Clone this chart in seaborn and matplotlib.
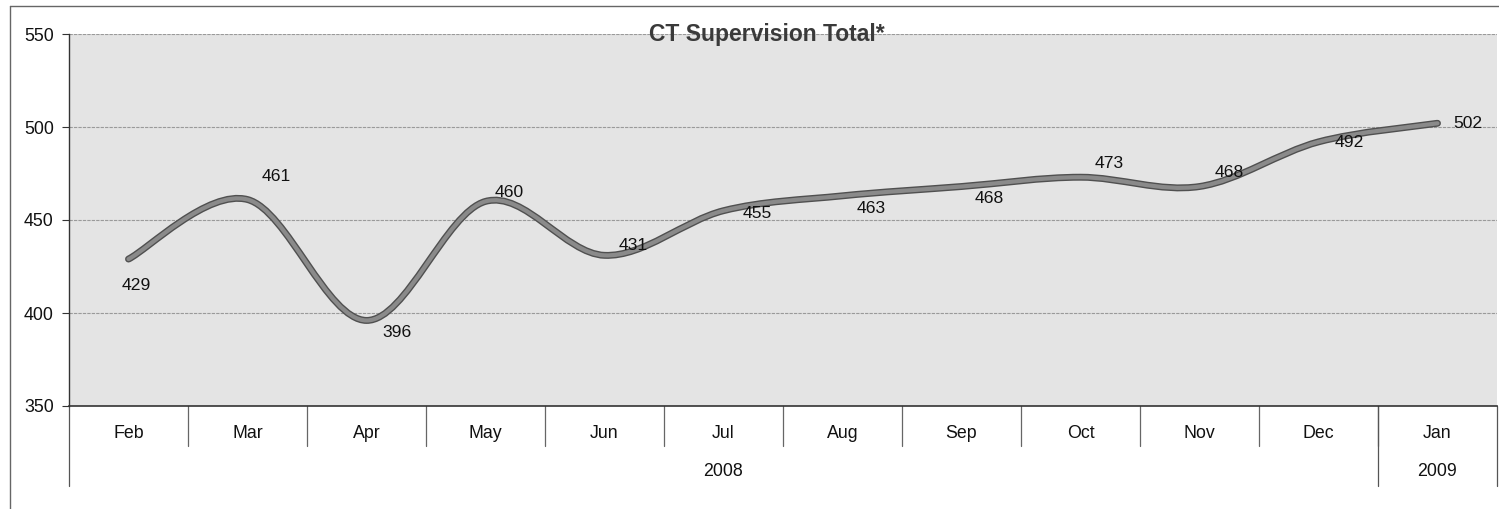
import numpy as np
import pandas as pd
import seaborn as sns
import matplotlib.pyplot as plt
from matplotlib.path import Path
from matplotlib.patches import PathPatch
from matplotlib.lines import Line2D

# chart data
months = ['Feb', 'Mar', 'Apr', 'May', 'Jun', 'Jul', 'Aug', 'Sep', 'Oct', 'Nov', 'Dec', 'Jan']
years = ['2008'] * 11 + ['2009']
totals = [429, 461, 396, 460, 431, 455, 463, 468, 473, 468, 492, 502]
y_ticks = [350, 400, 450, 500, 550]

# label offsets in pixels (dx, dy up)
label_offsets = [(8, -26), (29, 23), (31, -12), (24, 9), (29, 10), (34, -3),
                 (29, -13), (28, -12), (29, 14), (30, 14), (31, -1), (30, 0)]

df = pd.DataFrame({'month': months, 'year': years, 'total': totals})
df['pos'] = np.arange(len(df))

sns.set_style('white')
plt.rcParams['font.family'] = ['Liberation Sans', 'DejaVu Sans']

fig = plt.figure(figsize=(14.99, 5.09), dpi=100)
W, H = 1499, 509
ax = fig.add_axes([69 / W, 103 / H, (1497 - 69) / W, 372 / H])
ax.set_facecolor('#e4e4e4')

# seaborn sets up the series (invisible), the smooth curve is drawn on top
sns.lineplot(data=df, x='pos', y='total', ax=ax, linewidth=0, sort=False)

# Excel-style smoothed line: cubic Bezier through every point
x = df['pos'].to_numpy(float)
y = df['total'].to_numpy(float)
n = len(x)
verts = [(x[0], y[0])]
codes = [Path.MOVETO]
for i in range(n - 1):
    p0 = i - 1 if i > 0 else 0
    p3 = i + 2 if i + 2 < n else n - 1
    c1 = (x[i] + (x[i + 1] - x[p0]) / 6, y[i] + (y[i + 1] - y[p0]) / 6)
    c2 = (x[i + 1] - (x[p3] - x[i]) / 6, y[i + 1] - (y[p3] - y[i]) / 6)
    verts += [c1, c2, (x[i + 1], y[i + 1])]
    codes += [Path.CURVE4] * 3
path = Path(verts, codes)
ax.add_patch(PathPatch(path, facecolor='none', edgecolor='#505050', lw=5.0,
                       capstyle='round', joinstyle='round', zorder=3))
ax.add_patch(PathPatch(path, facecolor='none', edgecolor='#8a8a8a', lw=3.0,
                       capstyle='round', joinstyle='round', zorder=4))

# data labels
for xi, yi, (dx, dy) in zip(x, y, label_offsets):
    ax.annotate(f'{int(yi)}', (xi, yi), xytext=(dx, dy), textcoords='offset pixels',
                ha='center', va='center', fontsize=12.6, color='#111111', zorder=5)

ax.set_xlim(-0.5, n - 0.5)
ax.set_ylim(350, 550)
ax.set_yticks(y_ticks)
ax.set_yticklabels([str(t) for t in y_ticks], fontsize=12.8, color='#111111')
ax.tick_params(axis='y', length=5, width=0.8, color='#333333', pad=6, left=True)
ax.set_xticks([])
ax.set_xlabel('')
ax.set_ylabel('')
for yt in y_ticks[1:]:
    ax.axhline(yt, color='#9a9a9a', lw=0.8, ls=(0, (3, 1)), zorder=1)
for side in ['top', 'right']:
    ax.spines[side].set_visible(False)
ax.spines['left'].set_color('#333333')
ax.spines['bottom'].set_color('#333333')
ax.spines['left'].set_linewidth(1.0)
ax.spines['bottom'].set_linewidth(1.2)

# two-level category axis below the plot
trans = ax.get_xaxis_transform()
row1 = -40 / 372
row2 = -80 / 372
for i, m in enumerate(months):
    ax.text(i, -27 / 372, m, transform=trans, ha='center', va='center',
            fontsize=12.8, color='#111111')
for b in range(1, n):
    ax.plot([b - 0.5, b - 0.5], [0, row1], transform=trans, color='#666666',
            lw=0.9, clip_on=False)
year_bounds = [-0.5, 10.5, 11.5]
for b in year_bounds:
    ax.plot([b, b], [0, row2], transform=trans, color='#555555', lw=0.9, clip_on=False)
for yr in ['2008', '2009']:
    idx = df.index[df['year'] == yr]
    ax.text((idx.min() + idx.max()) / 2, -66 / 372, yr, transform=trans,
            ha='center', va='center', fontsize=12.8, color='#111111')

# title sitting on the top border
fig.text(767 / W, 1 - 34 / H, 'CT Supervision Total*', ha='center', va='center',
         fontsize=16.5, fontweight='bold', color='#3a3a3a')

# outer chart frame
fig.add_artist(Line2D([10 / W, 10 / W], [0, 1 - 6 / H], color='#666666', lw=1.0))
fig.add_artist(Line2D([10 / W, 1], [1 - 6 / H, 1 - 6 / H], color='#666666', lw=1.0))

plt.savefig('out.png', dpi=100)
